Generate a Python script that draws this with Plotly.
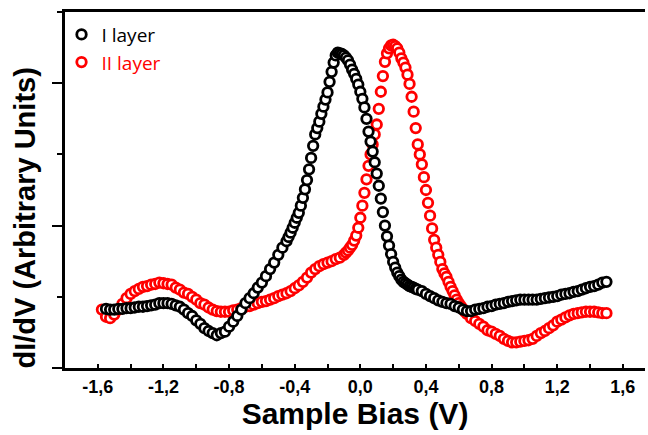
import plotly.graph_objects as go

# ---- layer I : sample bias (V) and dI/dV (a.u.) ----
bias_I = [
    -1.550, -1.525, -1.500, -1.475, -1.450, -1.425, -1.400, -1.375, -1.350, -1.325,
    -1.300, -1.275, -1.250, -1.225, -1.200, -1.175, -1.150, -1.125, -1.100, -1.075,
    -1.050, -1.025, -1.000, -0.975, -0.950, -0.925, -0.900, -0.875, -0.850, -0.825,
    -0.800, -0.775, -0.750, -0.725, -0.700, -0.675, -0.650, -0.625, -0.600, -0.575,
    -0.550, -0.525, -0.500, -0.475,
    -0.4500, -0.4375, -0.4250, -0.4125, -0.4000, -0.3875, -0.3750, -0.3625, -0.3500, -0.3375,
    -0.3250, -0.3125, -0.3000, -0.2875, -0.2750, -0.2625, -0.2500, -0.2375, -0.2250, -0.2125,
    -0.2000, -0.1875, -0.1750, -0.1625, -0.1500, -0.1375, -0.1250, -0.1125, -0.1000, -0.0875,
    -0.0750, -0.0625, -0.0500, -0.0375, -0.0250, -0.0125, 0.0000, 0.0125, 0.0250, 0.0375,
    0.0500, 0.0625, 0.0750, 0.0875, 0.1000, 0.1125, 0.1250, 0.1375, 0.1500, 0.1625,
    0.1750, 0.1875, 0.2000, 0.2125, 0.2250, 0.2375, 0.2500, 0.2625, 0.2750, 0.2875,
    0.3000, 0.3125, 0.3250, 0.3375, 0.3500,
    0.375, 0.400, 0.425, 0.450, 0.475, 0.500, 0.525, 0.550, 0.575, 0.600,
    0.625, 0.650, 0.675, 0.700, 0.725, 0.750, 0.775, 0.800, 0.825, 0.850,
    0.875, 0.900, 0.925, 0.950, 0.975, 1.000, 1.025, 1.050, 1.075, 1.100,
    1.125, 1.150, 1.175, 1.200, 1.225, 1.250, 1.275, 1.300, 1.325, 1.350,
    1.375, 1.400, 1.425, 1.450, 1.475, 1.500,
]
didv_I = [
    0.83, 0.82, 0.82, 0.83, 0.83, 0.84, 0.84, 0.85, 0.86, 0.86,
    0.87, 0.88, 0.89, 0.91, 0.91, 0.91, 0.90, 0.88, 0.86, 0.82,
    0.77, 0.73, 0.67, 0.62, 0.56, 0.52, 0.49, 0.46, 0.49, 0.51,
    0.58, 0.65, 0.73, 0.82, 0.91, 0.98, 1.05, 1.13, 1.20, 1.29,
    1.39, 1.48, 1.59, 1.69,
    1.78, 1.84, 1.90, 1.97, 2.04, 2.11, 2.18, 2.28, 2.39, 2.51,
    2.64, 2.79, 2.95, 3.12, 3.28, 3.37, 3.46, 3.57, 3.67, 3.77,
    3.87, 4.02, 4.16, 4.29, 4.39, 4.43, 4.42, 4.41, 4.39, 4.36,
    4.32, 4.26, 4.19, 4.13, 4.06, 3.98, 3.88, 3.78, 3.66, 3.50,
    3.32, 3.18, 3.04, 2.89, 2.73, 2.56, 2.38, 2.19, 2.00, 1.85,
    1.72, 1.60, 1.49, 1.41, 1.34, 1.29, 1.24, 1.21, 1.19, 1.17,
    1.15, 1.14, 1.13, 1.11, 1.10,
    1.08, 1.04, 1.01, 0.98, 0.95, 0.93, 0.91, 0.90, 0.87, 0.85,
    0.82, 0.80, 0.80, 0.82, 0.83, 0.84, 0.86, 0.87, 0.89, 0.90,
    0.91, 0.93, 0.94, 0.95, 0.96, 0.96, 0.96, 0.96, 0.96, 0.97,
    0.98, 0.99, 1.00, 1.01, 1.03, 1.04, 1.05, 1.07, 1.08, 1.10,
    1.12, 1.14, 1.15, 1.17, 1.20, 1.21,
]

# ---- layer II : sample bias (V) and dI/dV (a.u.) ----
bias_II = [
    -1.575, -1.550, -1.525, -1.500, -1.475, -1.450, -1.425, -1.400, -1.375, -1.350,
    -1.325, -1.300, -1.275, -1.250, -1.225, -1.200, -1.175, -1.150, -1.125, -1.100,
    -1.075, -1.050, -1.025, -1.000, -0.975, -0.950, -0.925, -0.900, -0.875, -0.850,
    -0.825, -0.800, -0.775, -0.750, -0.725, -0.700, -0.675, -0.650, -0.625, -0.600,
    -0.575, -0.550, -0.525, -0.500, -0.475, -0.450, -0.425, -0.400, -0.375, -0.350,
    -0.325, -0.300, -0.275, -0.250, -0.225, -0.200, -0.175, -0.150, -0.125,
    -0.1000, -0.0875, -0.0750, -0.0625, -0.0500, -0.0375, -0.0250, -0.0125, 0.0000, 0.0125,
    0.0250, 0.0375, 0.0500, 0.0625, 0.0750, 0.0875, 0.1000, 0.1125, 0.1250, 0.1375,
    0.1500, 0.1625, 0.1750, 0.1875, 0.2000, 0.2125, 0.2250, 0.2375, 0.2500, 0.2625,
    0.2750, 0.2875, 0.3000, 0.3125, 0.3250, 0.3375, 0.3500, 0.3625, 0.3750, 0.3875,
    0.4000, 0.4125, 0.4250, 0.4375, 0.4500, 0.4625, 0.4750, 0.4875, 0.5000, 0.5125,
    0.5250, 0.5375, 0.5500, 0.5625, 0.5750, 0.5875, 0.6000, 0.6125, 0.6250, 0.6375,
    0.6500,
    0.675, 0.700, 0.725, 0.750, 0.775, 0.800, 0.825, 0.850, 0.875, 0.900,
    0.925, 0.950, 0.975, 1.000, 1.025, 1.050, 1.075, 1.100, 1.125, 1.150,
    1.175, 1.200, 1.225, 1.250, 1.275, 1.300, 1.325, 1.350, 1.375, 1.400,
    1.425, 1.450, 1.475, 1.500,
]
didv_II = [
    0.82, 0.72, 0.70, 0.75, 0.82, 0.90, 0.98, 1.04, 1.08, 1.11,
    1.14, 1.15, 1.17, 1.18, 1.20, 1.19, 1.18, 1.17, 1.13, 1.10,
    1.06, 1.04, 1.00, 0.96, 0.91, 0.89, 0.85, 0.82, 0.80, 0.79,
    0.79, 0.79, 0.81, 0.82, 0.84, 0.86, 0.87, 0.89, 0.91, 0.93,
    0.94, 0.96, 0.98, 1.01, 1.03, 1.05, 1.08, 1.12, 1.16, 1.21,
    1.27, 1.34, 1.39, 1.43, 1.46, 1.48, 1.50, 1.53, 1.55,
    1.59, 1.62, 1.65, 1.69, 1.73, 1.79, 1.86, 1.97, 2.11, 2.28,
    2.46, 2.65, 2.84, 3.00, 3.14, 3.28, 3.42, 3.64, 3.88, 4.10,
    4.30, 4.42, 4.49, 4.53, 4.54, 4.52, 4.49, 4.43, 4.35, 4.29,
    4.22, 4.12, 3.99, 3.81, 3.60, 3.37, 3.14, 3.00, 2.86, 2.68,
    2.50, 2.32, 2.14, 1.96, 1.80, 1.69, 1.59, 1.49, 1.39, 1.33,
    1.28, 1.21, 1.14, 1.08, 1.02, 0.96, 0.91, 0.87, 0.83, 0.79,
    0.76,
    0.70, 0.66, 0.62, 0.58, 0.53, 0.51, 0.48, 0.45, 0.41, 0.38,
    0.36, 0.36, 0.37, 0.38, 0.39, 0.41, 0.45, 0.49, 0.52, 0.56,
    0.60, 0.65, 0.68, 0.71, 0.74, 0.76, 0.77, 0.78, 0.79, 0.79,
    0.79, 0.78, 0.77, 0.77,
]

x_tickvals = [-1.6, -1.2, -0.8, -0.4, 0.0, 0.4, 0.8, 1.2, 1.6]
x_ticktext = ["-1,6", "-1,2", "-0,8", "-0,4", "0,0", "0,4", "0,8", "1,2", "1,6"]

BOLD_FONT = "Liberation Sans, Arial, sans-serif"

fig = go.Figure()

# layer II goes first so the layer I circles sit on top of it
fig.add_trace(go.Scatter(
    x=bias_II, y=didv_II, mode="markers",
    name="<span style='color:#ff0000'>II layer</span>",
    marker=dict(symbol="circle", size=9.5, color="white",
                line=dict(color="#ff0000", width=2.8)),
))
fig.add_trace(go.Scatter(
    x=bias_I, y=didv_I, mode="markers",
    name="I layer",
    marker=dict(symbol="circle", size=9.5, color="white",
                line=dict(color="#000000", width=2.8)),
))

# vertical axis label, sitting a little below the middle of the axis
fig.add_annotation(
    text="<b>dI/dV (Arbitrary Units)</b>",
    xref="paper", yref="paper", x=0, y=0.42,
    xanchor="center", yanchor="middle", xshift=-40,
    textangle=-90, showarrow=False,
    font=dict(family=BOLD_FONT, size=29, color="black"),
)

fig.update_layout(
    width=648, height=435,
    margin=dict(l=65, r=3, t=12, b=67),
    paper_bgcolor="white", plot_bgcolor="white",
    font=dict(family=BOLD_FONT, color="black"),
    showlegend=True,
    legend=dict(
        x=-0.006, y=0.99, xanchor="left", yanchor="top",
        traceorder="reversed",
        bgcolor="rgba(0,0,0,0)",
        font=dict(family="Open Sans, sans-serif", size=19, color="black"),
        itemsizing="trace", tracegroupgap=0,
    ),
    xaxis=dict(
        range=[-1.8, 1.735],
        showline=True, linecolor="black", linewidth=3, mirror=True,
        showgrid=False, zeroline=False,
        ticks="inside", ticklen=4, tickwidth=2, tickcolor="black",
        tickmode="array", tickvals=x_tickvals, ticktext=x_ticktext,
        tickfont=dict(family=BOLD_FONT, size=18, weight="bold", color="black"),
        minor=dict(ticks="inside", dtick=0.2, tick0=0, ticklen=4,
                   tickwidth=2, tickcolor="black"),
        title=dict(text="Sample Bias (V)", standoff=6,
                   font=dict(family=BOLD_FONT, size=30, weight="bold",
                             color="black")),
    ),
    yaxis=dict(
        range=[0, 5],
        showline=True, linecolor="black", linewidth=3,
        showgrid=False, zeroline=False,
        ticks="outside", ticklen=10, tickwidth=2, tickcolor="black",
        dtick=2, tick0=0, showticklabels=False,
        minor=dict(ticks="outside", dtick=1, tick0=0, ticklen=5,
                   tickwidth=2, tickcolor="black"),
    ),
)

fig.write_html("out.html")
